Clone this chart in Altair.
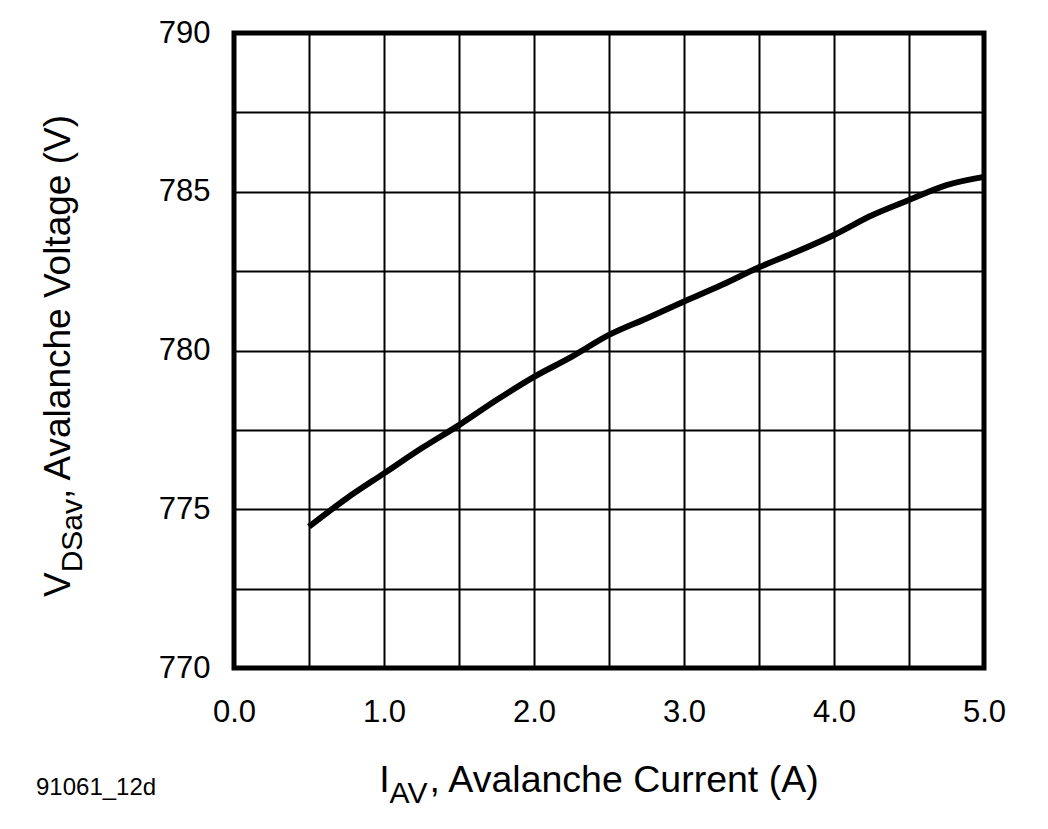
import altair as alt
import pandas as pd

# Values
current = [0.5, 0.75, 1.0, 1.25, 1.5, 1.75, 2.0, 2.25, 2.5, 2.75, 3.0,
           3.25, 3.5, 3.75, 4.0, 4.25, 4.5, 4.75, 5.0]
voltage = [774.45, 775.34, 776.13, 776.92, 777.65, 778.44, 779.17, 779.8,
           780.49, 781.01, 781.54, 782.06, 782.62, 783.11, 783.64, 784.25,
           784.74, 785.21, 785.47]

x_grid = [0.0, 0.5, 1.0, 1.5, 2.0, 2.5, 3.0, 3.5, 4.0, 4.5, 5.0]
y_grid = [770, 772.5, 775, 777.5, 780, 782.5, 785, 787.5, 790]

FONT = "Liberation Sans"

df = pd.DataFrame({"I": current, "V": voltage})

axis_common = dict(
    title=None, grid=True, ticks=False, tickSize=0, domain=False,
    labelFontSize=31, labelFont=FONT, labelColor="black",
    labelFlush=False, labelOverlap=False,
    gridColor="black", gridWidth=2, gridOpacity=1,
)

line = alt.Chart(df).mark_line(
    color="black", strokeWidth=6, interpolate="monotone", strokeCap="butt"
).encode(
    x=alt.X("I:Q", scale=alt.Scale(domain=[0, 5], nice=False, zero=False),
            axis=alt.Axis(values=x_grid, labelPadding=29,
                          labelExpr="datum.value % 1 === 0 ? format(datum.value, '.1f') : ''",
                          **axis_common)),
    y=alt.Y("V:Q", scale=alt.Scale(domain=[770, 790], nice=False, zero=False),
            axis=alt.Axis(values=y_grid, labelPadding=24,
                          labelExpr="datum.value % 5 === 0 ? format(datum.value, 'd') : ''",
                          **axis_common)),
)


def txt(s, x, y, size, angle=0):
    return alt.Chart(pd.DataFrame({"t": [s]})).mark_text(
        font=FONT, fontSize=size, align="left", baseline="alphabetic",
        angle=angle, color="black"
    ).encode(x=alt.value(x), y=alt.value(y), text="t:N")


layers = [
    line,
    # x-axis title with subscript
    txt("I", 145.2, 758.7, 37.5),
    txt("AV", 155.6, 769.5, 30),
    txt(", Avalanche Current (A)", 195.6, 758.7, 37.5),
    # y-axis title with subscript (rotated)
    txt("V", -164, 564, 37, 270),
    txt("DSav", -152.5, 539.3, 30, 270),
    txt(", Avalanche Voltage (V)", -164, 466, 37, 270),
    # figure code
    txt("91061_12d", -198, 762, 24),
]

chart = alt.layer(*layers).properties(
    width=750, height=635,
    autosize=alt.AutoSizeParams(type="none"),
    padding={"left": 226, "top": 25, "right": 50, "bottom": 150},
).configure_view(stroke="black", strokeWidth=5)

chart.save("out.html", embed_options={"renderer": "svg", "actions": False})
